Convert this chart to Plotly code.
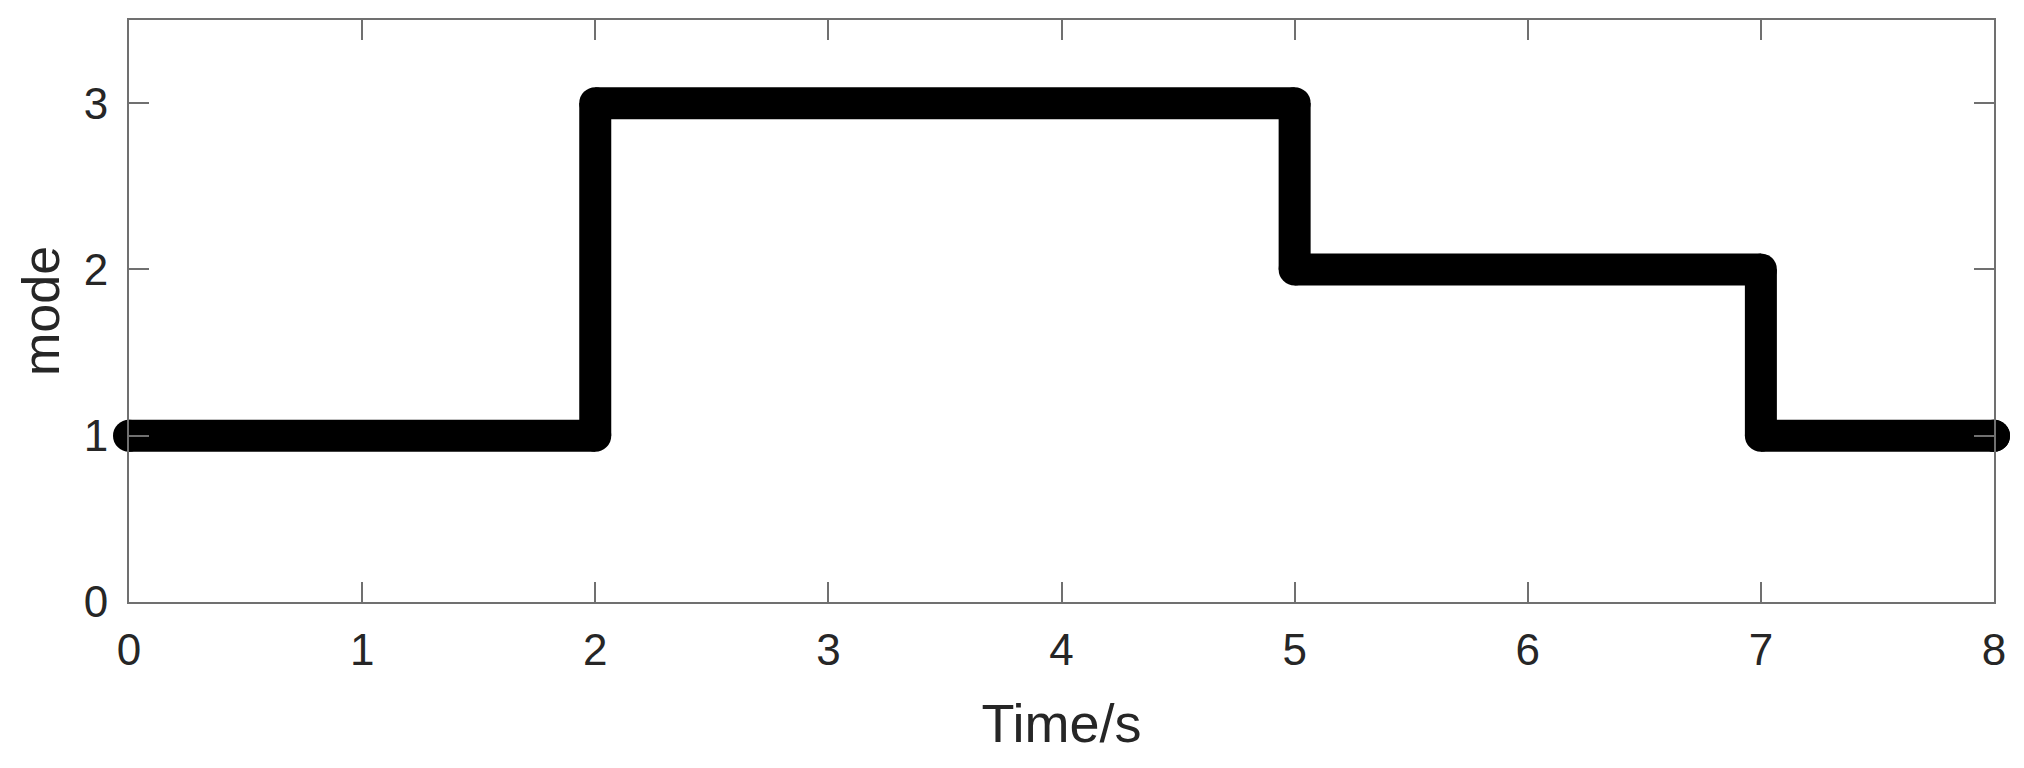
import plotly.graph_objects as go

# switching instants (s) and the mode held from each one
time_s = [0, 2, 5, 7, 8]
mode = [1, 3, 2, 1, 1]

x_ticks = [0, 1, 2, 3, 4, 5, 6, 7, 8]
y_ticks = [0, 1, 2, 3]

FONT = "Liberation Sans, Arial, sans-serif"
TEXT = "#262626"
FRAME = "#707070"
LW = 32

# vertices of the step trace
vx, vy = [time_s[0]], [mode[0]]
for i in range(1, len(time_s)):
    vx += [time_s[i], time_s[i]]
    vy += [mode[i - 1], mode[i]]

# draw every leg as its own path (butt ends), round markers then fill the corners
seg_x, seg_y = [], []
for i in range(len(vx) - 1):
    seg_x += [vx[i], vx[i + 1], None]
    seg_y += [vy[i], vy[i + 1], None]

fig = go.Figure()
fig.add_trace(
    go.Scatter(
        x=seg_x,
        y=seg_y,
        mode="lines",
        line=dict(color="black", width=LW),
        cliponaxis=False,
        showlegend=False,
    )
)
fig.add_trace(
    go.Scatter(
        x=vx,
        y=vy,
        mode="markers",
        marker=dict(color="black", size=LW, line=dict(width=0)),
        cliponaxis=False,
        showlegend=False,
    )
)

axis_common = dict(
    showgrid=False,
    zeroline=False,
    showline=True,
    linecolor=FRAME,
    linewidth=2,
    mirror="ticks",
    ticks="inside",
    ticklen=20,
    tickwidth=2,
    tickcolor=FRAME,
    automargin=False,
    tickfont=dict(family=FONT, size=44, color=TEXT),
)

fig.update_xaxes(
    range=[0, 8],
    tickvals=x_ticks,
    ticklabelstandoff=8,
    title=dict(text="Time/s", font=dict(family=FONT, size=54, color=TEXT), standoff=31),
    **axis_common,
)
fig.update_yaxes(
    range=[0, 3.5],
    tickvals=y_ticks,
    ticklabelstandoff=10,
    **axis_common,
)

# y title as an annotation so it can sit closer to the page edge
fig.add_annotation(
    text="mode",
    xref="paper",
    yref="paper",
    x=0,
    y=0.5,
    xshift=-88,
    xanchor="center",
    yanchor="middle",
    textangle=-90,
    showarrow=False,
    font=dict(family=FONT, size=52, color=TEXT),
)

# the page body adds 8px around the figure
fig.update_layout(
    width=2008,
    height=752,
    margin=dict(l=121, r=22, t=12, b=158),
    plot_bgcolor="white",
    paper_bgcolor="white",
)

fig.write_html("out.html")
